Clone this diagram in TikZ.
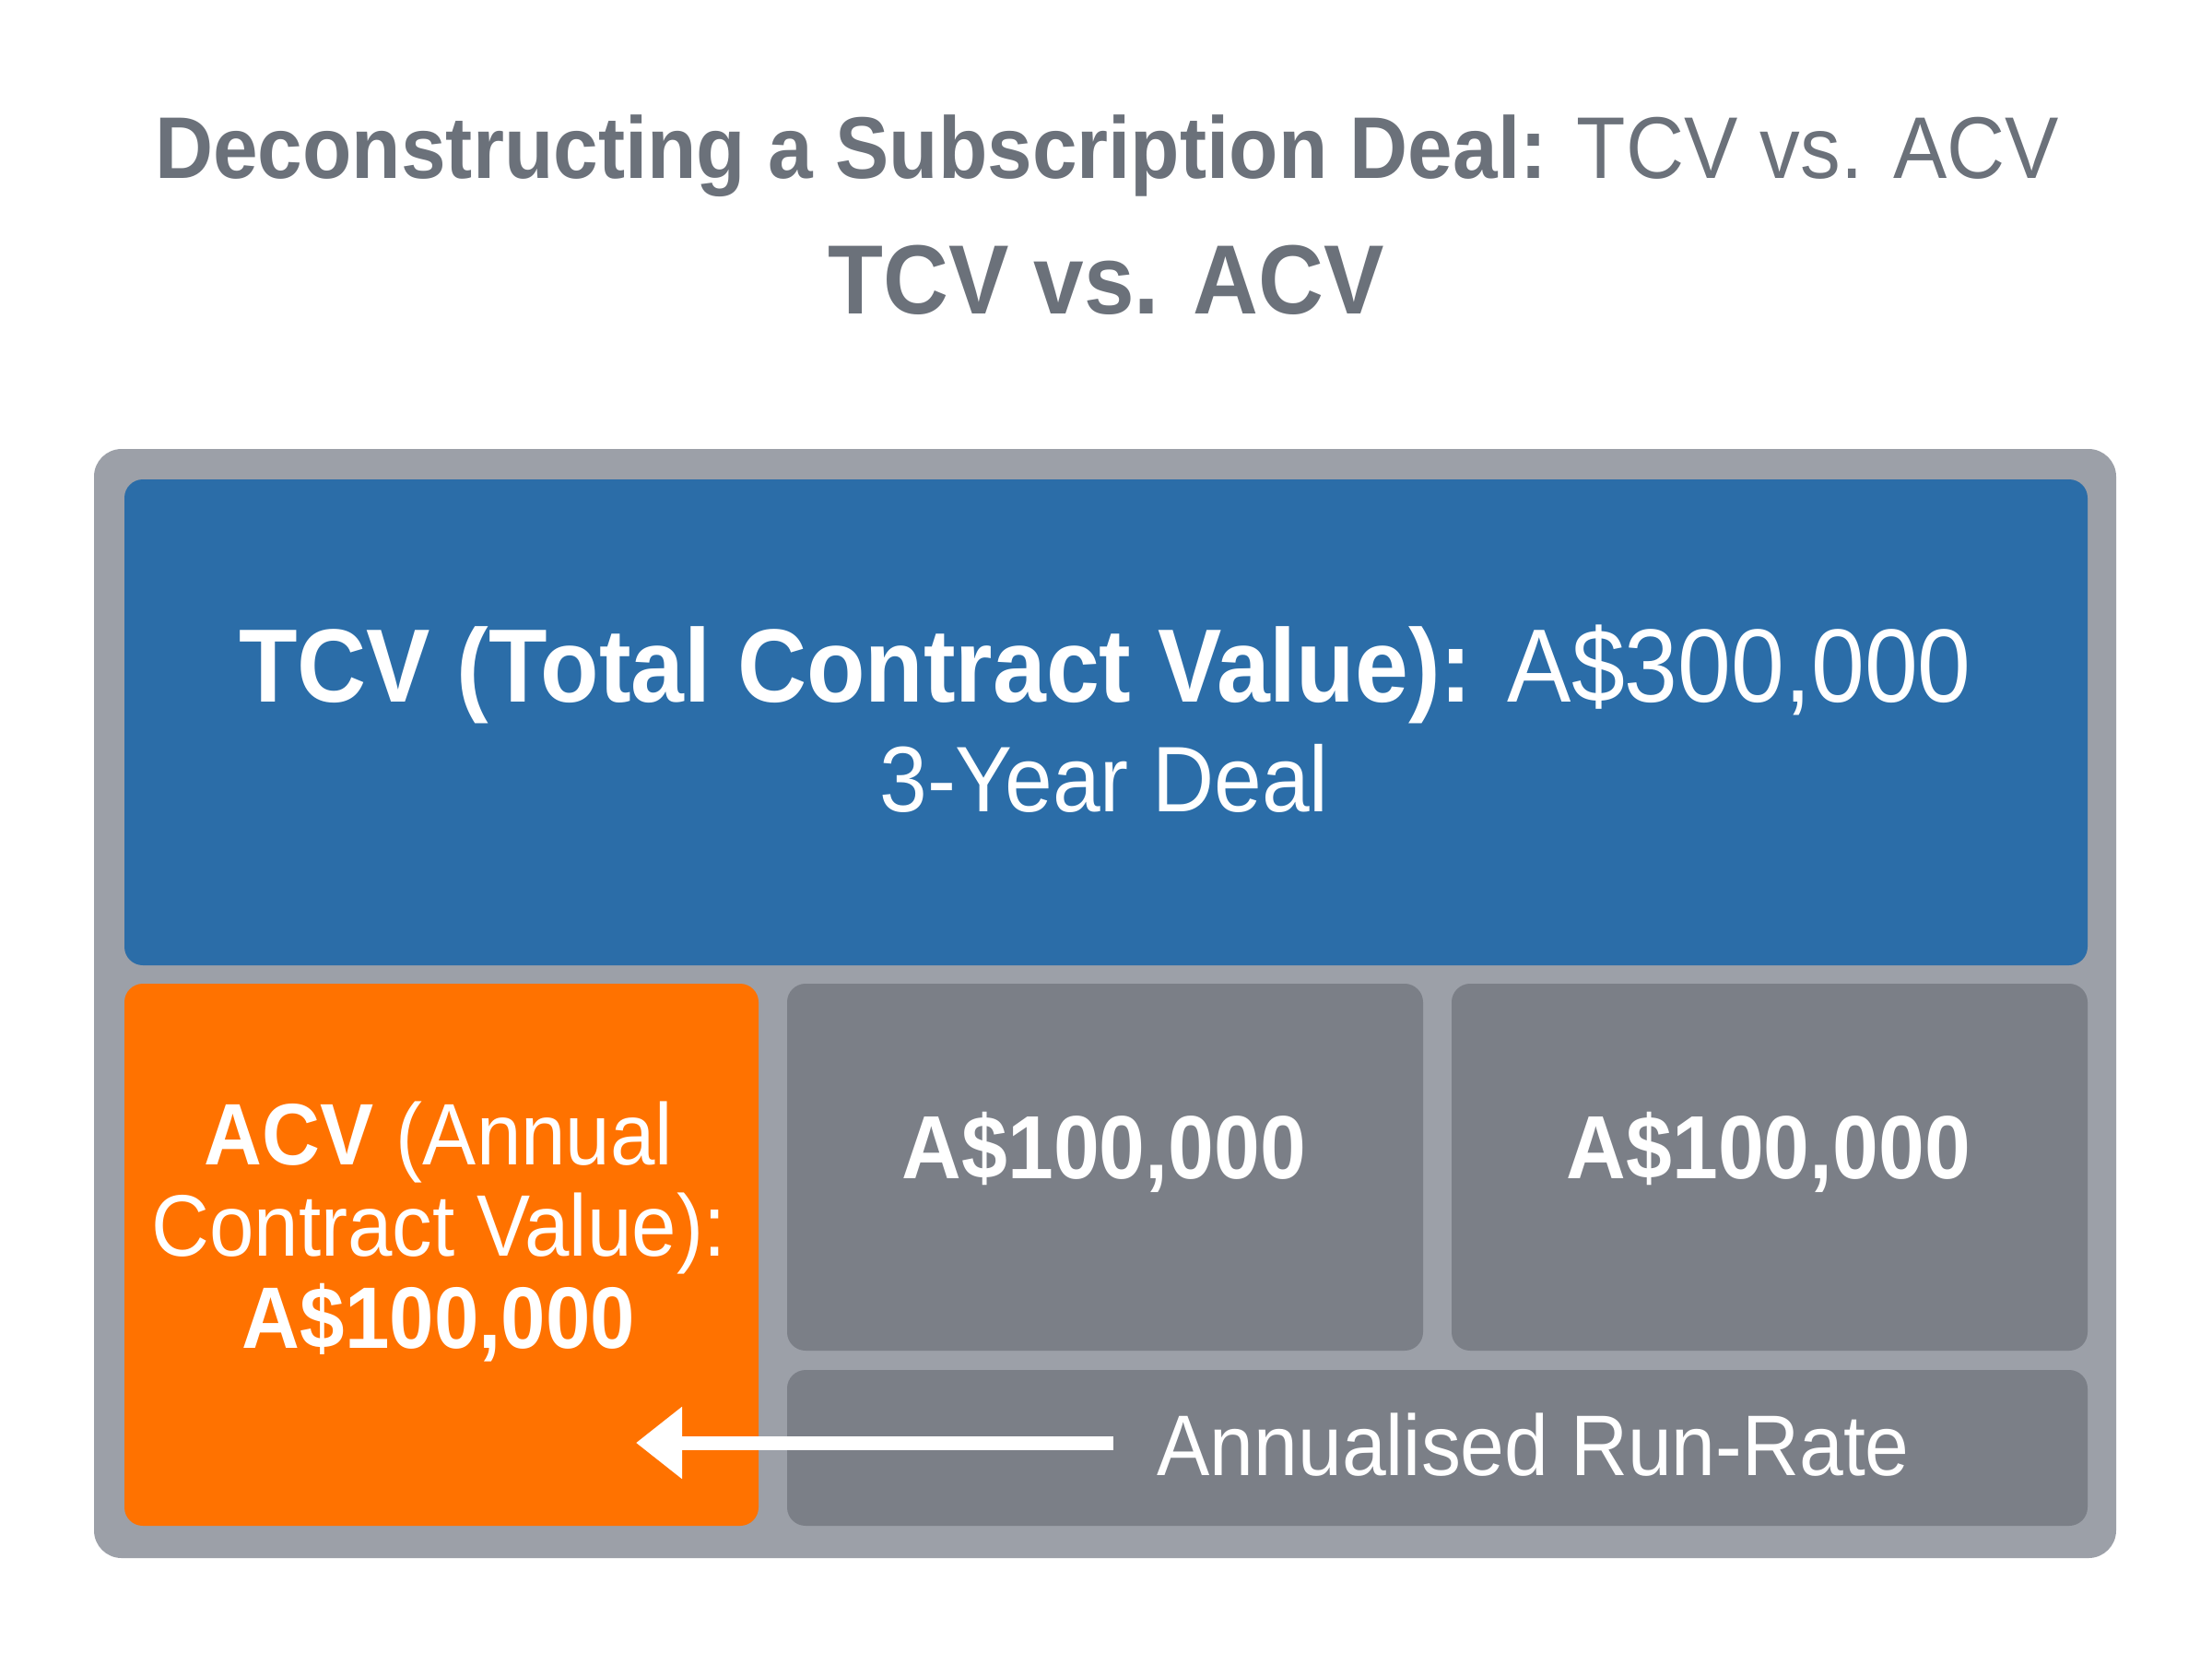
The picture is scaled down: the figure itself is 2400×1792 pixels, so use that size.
\documentclass[tikz,border=0pt]{standalone}
\usepackage{fontspec}
\setmainfont{Liberation Sans}[FakeStretch=0.92]
\usetikzlibrary{arrows.meta}
\definecolor{frameC}{HTML}{9CA0A8}
\definecolor{blueC}{HTML}{2B6DA8}
\definecolor{orangeC}{HTML}{FF7200}
\definecolor{grayC}{HTML}{7B7F87}
\definecolor{titleC}{HTML}{6B717A}
\tikzset{
  panel/.style={rounded corners=6pt},
  lbl/.style={anchor=base, text=white, inner sep=0pt},
  ttl/.style={anchor=base, text=titleC, inner sep=0pt},
}
\begin{document}
\begin{tikzpicture}[x=0.3pt,y=-0.3pt]
\useasboundingbox[fill=white] (0,0) rectangle (2400,1792);
\fill[frameC, rounded corners=9pt] (102,487) rectangle (2296,1690);
\fill[blueC, panel] (135,520) rectangle (2265,1047);
\fill[orangeC, panel] (135,1067) rectangle (823,1655);
\fill[grayC, panel] (854,1067) rectangle (1544,1465);
\fill[grayC, panel] (1575,1067) rectangle (2265,1465);
\fill[grayC, panel] (854,1486) rectangle (2265,1655);
\node[ttl, font=\fontsize{28.5}{34}\selectfont] (title1) at (1201,193) {\textbf{Deconstructing a Subscription Deal:} TCV vs. ACV};
\node[ttl, font=\fontsize{32}{38}\selectfont\bfseries] (title2) at (1200,340) {TCV vs. ACV};
\node[lbl, font=\fontsize{33.9}{40}\selectfont] (tcv) at (1199,761) {\textbf{TCV (Total Contract Value):} A\$300,000};
\node[lbl, font=\fontsize{30.3}{36}\selectfont] (year) at (1198,880) {3-Year Deal};
\node[lbl, font=\fontsize{28.4}{33}\selectfont] (acv1) at (476,1263) {\textbf{ACV} (Annual};
\node[lbl, font=\fontsize{28.4}{33}\selectfont] (acv2) at (476,1362) {Contract Value):};
\node[lbl, font=\fontsize{28.4}{33}\selectfont\bfseries] (acv3) at (476,1462) {A\$100,000};
\node[lbl, font=\fontsize{29.2}{35}\selectfont\bfseries] (y2) at (1198,1278) {A\$100,000};
\node[lbl, font=\fontsize{29.2}{35}\selectfont\bfseries] (y3) at (1919,1278) {A\$100,000};
\node[lbl, anchor=base west, font=\fontsize{28}{35}\selectfont] (rr) at (1255,1600) {Annualised Run-Rate};
\coordinate (arrS) at (1208,1565);
\coordinate (arrE) at (690,1565);
\draw[white, line width=4.5pt, -{Triangle[length=15pt,width=22.5pt]}] (arrS) -- (arrE);
\end{tikzpicture}
\end{document}
